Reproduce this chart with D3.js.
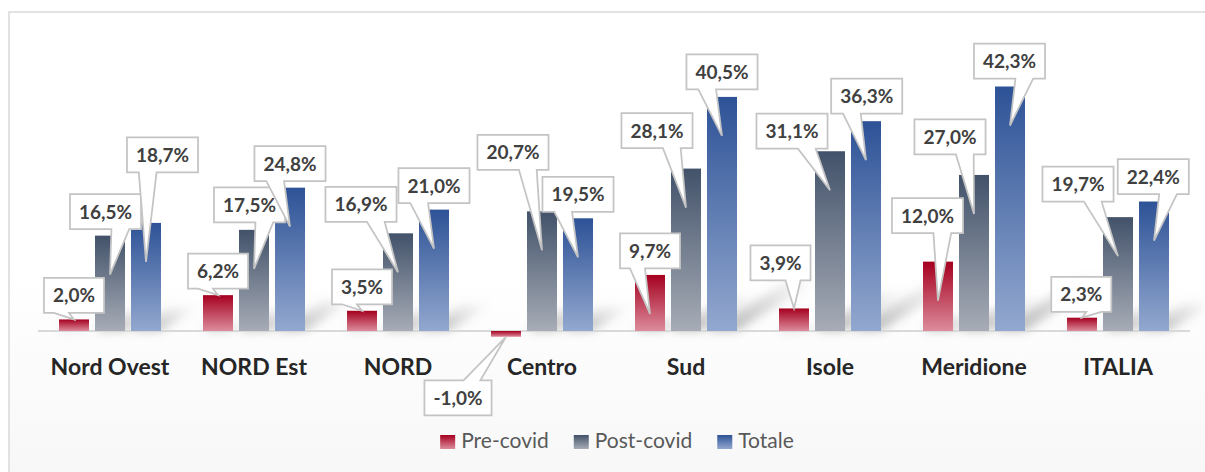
<!DOCTYPE html>
<html>
<head>
<meta charset="utf-8">
<script src="https://cdn.jsdelivr.net/npm/d3@7"></script>
<style>
  body { margin: 0; background: #fff; }
  svg { display: block; }
</style>
</head>
<body>
<script>
var categories = ["Nord Ovest", "NORD Est", "NORD", "Centro", "Sud", "Isole", "Meridione", "ITALIA"];
var seriesNames = ["Pre-covid", "Post-covid", "Totale"];
var preCovid  = [2.0, 6.2, 3.5, -1.0, 9.7, 3.9, 12.0, 2.3];
var postCovid = [16.5, 17.5, 16.9, 20.7, 28.1, 31.1, 27.0, 19.7];
var totale    = [18.7, 24.8, 21.0, 19.5, 40.5, 36.3, 42.3, 22.4];

// where each callout box sits, relative to the end of its bar (layout only)
var calloutShift = [
  [[0, -24], [0, -24], [0, -24], [-48, 61], [0, -24], [-13.5, -45.5], [-10.5, -46], [-0.7, -23.4]],
  [[-4.5, -24], [-4.5, -25], [-37, -29], [-29, -59], [-29, -38], [-38, -20], [-24, -38], [-40, -33]],
  [[16.5, -68], [0, -24], [0, -24], [0, -24], [0, -25], [0.7, -25], [-0.5, -25.5], [-0.7, -25]]
];

var width = 1205,
    height = 472;

var values = [preCovid, postCovid, totale];
var colors = [
  ["#a5001f", "#dc8c9c"],
  ["#42526a", "#a7acb6"],
  ["#2d5296", "#93a8cf"]
];

var svg = d3.select("body").append("svg")
    .attr("width", width)
    .attr("height", height);

var defs = svg.append("defs");

colors.forEach(function(c, i) {
  var g = defs.append("linearGradient")
      .attr("id", "bar" + i)
      .attr("x1", 0).attr("y1", 0).attr("x2", 0).attr("y2", 1);
  g.append("stop").attr("offset", "0%").attr("stop-color", c[0]);
  g.append("stop").attr("offset", "100%").attr("stop-color", c[1]);
});

var bg = defs.append("linearGradient")
    .attr("id", "bg")
    .attr("x1", 0).attr("y1", 0).attr("x2", 0).attr("y2", 1);
bg.append("stop").attr("offset", "0%").attr("stop-color", "#ffffff");
bg.append("stop").attr("offset", "55%").attr("stop-color", "#ffffff");
bg.append("stop").attr("offset", "100%").attr("stop-color", "#f7f7f7");

var sh = defs.append("linearGradient")
    .attr("id", "shadow")
    .attr("x1", 0).attr("y1", 1).attr("x2", 1).attr("y2", 0);
sh.append("stop").attr("offset", "0%").attr("stop-color", "#808080").attr("stop-opacity", 0.6);
sh.append("stop").attr("offset", "55%").attr("stop-color", "#808080").attr("stop-opacity", 0.25);
sh.append("stop").attr("offset", "100%").attr("stop-color", "#808080").attr("stop-opacity", 0);

defs.append("filter")
    .attr("id", "blur")
    .attr("x", "-50%").attr("y", "-50%").attr("width", "200%").attr("height", "200%")
  .append("feGaussianBlur")
    .attr("stdDeviation", 5);

// frame
svg.append("rect")
    .attr("x", 9).attr("y", 12)
    .attr("width", width).attr("height", height)
    .attr("fill", "url(#bg)")
    .attr("stroke", "#d9d9d9")
    .attr("stroke-width", 1.5);

var x0 = d3.scaleBand()
    .domain(categories)
    .range([38, 1190]);

var x1 = d3.scaleBand()
    .domain(seriesNames)
    .range([21, 123])
    .paddingInner(1 / 6);

var y = d3.scaleLinear()
    .domain([-5, 50])
    .range([331 + 5 * 5.78, 331 - 50 * 5.78]);

var bars = [];
seriesNames.forEach(function(s, si) {
  values[si].forEach(function(v, ci) {
    bars.push({ s: si, c: ci, v: v, name: s, cat: categories[ci] });
  });
});

function barX(d) { return x0(d.cat) + x1(d.name); }

// perspective shadows
svg.append("g")
    .attr("filter", "url(#blur)")
  .selectAll("path")
  .data(bars.filter(function(d) { return d.v > 0; }))
  .enter().append("path")
    .attr("fill", "url(#shadow)")
    .attr("d", function(d) {
      var l = barX(d), r = l + x1.bandwidth(), b = y(0);
      var h = y(0) - y(d.v);
      var dx = h * 0.35, dy = h * 0.22;
      return "M" + l + "," + b + "L" + r + "," + b +
             "L" + (r + dx) + "," + (b - dy) + "L" + (l + dx) + "," + (b - dy) + "Z";
    });

// axis line
svg.append("line")
    .attr("x1", x0.range()[0]).attr("x2", x0.range()[1])
    .attr("y1", y(0)).attr("y2", y(0))
    .attr("stroke", "#d9d9d9")
    .attr("stroke-width", 2);

// bars
svg.append("g")
  .selectAll("rect")
  .data(bars)
  .enter().append("rect")
    .attr("x", barX)
    .attr("width", x1.bandwidth())
    .attr("y", function(d) { return Math.min(y(d.v), y(0)); })
    .attr("height", function(d) { return Math.abs(y(d.v) - y(0)); })
    .attr("fill", function(d) { return "url(#bar" + d.s + ")"; });

// category labels
var xAxis = svg.append("g")
    .attr("transform", "translate(0," + y(0) + ")")
    .call(d3.axisBottom(x0).tickSize(0).tickPadding(0));
xAxis.select(".domain").remove();
xAxis.selectAll("text")
    .attr("dy", null)
    .attr("y", 44)
    .style("font-family", "Lato, 'Open Sans', sans-serif")
    .style("font-weight", "bold")
    .style("font-size", "23px")
    .style("fill", "#262626");

// callouts
function fmt(v) { return v.toFixed(1).replace(".", ",") + "%"; }

function wedge(l, t, w, h, px, py) {
  var r = l + w, b = t + h;
  var dx = px - (l + w / 2), dy = py - (t + h / 2);
  var dz = Math.abs(dy) - Math.abs(dx * h / w);
  var xa = l + w * (dx > 0 ? 7 : 2) / 12, xb = l + w * (dx > 0 ? 10 : 5) / 12;
  var ya = t + h * (dy > 0 ? 7 : 2) / 12, yb = t + h * (dy > 0 ? 10 : 5) / 12;
  var p = "M" + l + "," + t;
  if (dz > 0 && dy < 0) p += "L" + xa + "," + t + "L" + px + "," + py + "L" + xb + "," + t;
  p += "L" + r + "," + t;
  if (dz <= 0 && dx > 0) p += "L" + r + "," + ya + "L" + px + "," + py + "L" + r + "," + yb;
  p += "L" + r + "," + b;
  if (dz > 0 && dy > 0) p += "L" + xb + "," + b + "L" + px + "," + py + "L" + xa + "," + b;
  p += "L" + l + "," + b;
  if (dz <= 0 && dx < 0) p += "L" + l + "," + yb + "L" + px + "," + py + "L" + l + "," + ya;
  return p + "Z";
}

var callout = svg.append("g")
  .selectAll("g")
  .data(bars)
  .enter().append("g");

callout.each(function(d) {
  var g = d3.select(this);
  var cx = barX(d) + x1.bandwidth() / 2;
  var end = y(d.v);
  var h = Math.abs(end - y(0));
  var tipY = h > 50 ? end + 39 : end;
  var shift = calloutShift[d.s][d.c];
  var bx = cx + shift[0], by = end + shift[1];

  var path = g.append("path");
  var text = g.append("text")
      .attr("x", bx)
      .attr("y", by + 7)
      .attr("text-anchor", "middle")
      .style("font-family", "Lato, 'Open Sans', sans-serif")
      .style("font-weight", "bold")
      .style("font-size", "19px")
      .style("fill", "#404040")
      .text(fmt(d.v));

  var tw = text.node().getComputedTextLength() + 18;
  var th = 35;
  path.attr("d", wedge(bx - tw / 2, by - th / 2, tw, th, cx, tipY))
      .attr("fill", "#ffffff")
      .attr("stroke", "#c4c4c4")
      .attr("stroke-width", 1.75)
      .attr("stroke-linejoin", "miter");
});

// legend
var legend = svg.append("g");
var lx = 0;
seriesNames.forEach(function(s, i) {
  var item = legend.append("g").attr("transform", "translate(" + lx + ",0)");
  item.append("rect")
      .attr("x", 0).attr("y", 435)
      .attr("width", 15).attr("height", 14)
      .attr("fill", "url(#bar" + i + ")");
  var t = item.append("text")
      .attr("x", 21).attr("y", 448)
      .style("font-family", "Lato, 'Open Sans', sans-serif")
      .style("font-size", "21px")
      .style("fill", "#595959")
      .text(s);
  lx += 21 + t.node().getComputedTextLength() + 25;
});
legend.attr("transform", "translate(" + (617 - (lx - 25) / 2) + ",0)");
</script>
</body>
</html>
